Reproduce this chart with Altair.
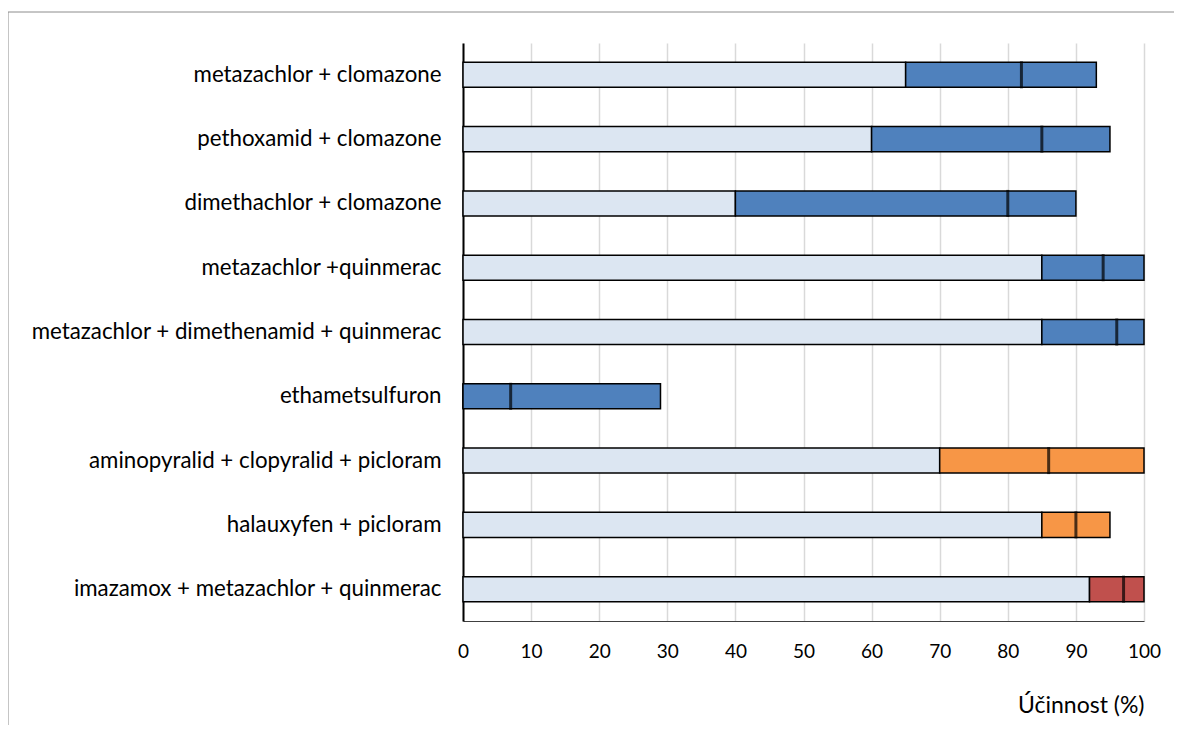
import altair as alt
import pandas as pd

categories = [
    "metazachlor + clomazone",
    "pethoxamid + clomazone",
    "dimethachlor + clomazone",
    "metazachlor +quinmerac",
    "metazachlor + dimethenamid + quinmerac",
    "ethametsulfuron",
    "aminopyralid + clopyralid + picloram",
    "halauxyfen + picloram",
    "imazamox + metazachlor + quinmerac",
]
min_vals = [65, 60, 40, 85, 85, 0, 70, 85, 92]
mid_vals = [82, 85, 80, 94, 96, 7, 86, 90, 97]
max_vals = [93, 95, 90, 100, 100, 29, 100, 95, 100]
groups = ["A", "A", "A", "A", "A", "A", "B", "B", "C"]

group_domain = ["A", "B", "C"]
group_colors = ["#4f81bd", "#f79646", "#c0504d"]

df = pd.DataFrame({
    "cat": categories,
    "zero": [0] * len(categories),
    "min": min_vals,
    "mid": mid_vals,
    "max": max_vals,
    "grp": groups,
})

FONT = "Lato"

y_enc = alt.Y(
    "cat:N",
    sort=categories,
    scale=alt.Scale(paddingInner=0.61, paddingOuter=0.3),
    axis=alt.Axis(
        title=None, ticks=False, grid=False, domain=True,
        domainColor="#000000", domainWidth=2,
        labelFontSize=22.3, labelFont=FONT, labelColor="#000000",
        labelPadding=22, labelLimit=600,
    ),
)
x_scale = alt.Scale(domain=[0, 100], nice=False)
x_axis = alt.Axis(
    title="Účinnost (%)", values=list(range(0, 101, 10)),
    ticks=False, grid=True, gridColor="#d9d9d9", gridWidth=1.5,
    domain=True, domainColor="#404040", domainWidth=1,
    labelFontSize=19, labelFont=FONT, labelColor="#000000",
    labelPadding=21, labelFlush=False, titleFont=FONT, titleFontSize=23,
    titleFontWeight="normal", titleColor="#000000",
    titleAnchor="end", titlePadding=33,
)

base = alt.Chart(df)

light = base.mark_bar(color="#dce6f2", stroke="#000000", strokeWidth=1.5).encode(
    y=y_enc,
    x=alt.X("zero:Q", scale=x_scale, axis=x_axis),
    x2="min:Q",
)

rng = base.mark_bar(stroke="#000000", strokeWidth=1.5).encode(
    y=alt.Y("cat:N", sort=categories),
    x=alt.X("min:Q", scale=x_scale),
    x2="max:Q",
    color=alt.Color("grp:N", scale=alt.Scale(domain=group_domain, range=group_colors), legend=None),
)

tick = base.mark_tick(color="#000000", thickness=3, size=27).encode(
    y=alt.Y("cat:N", sort=categories),
    x=alt.X("mid:Q", scale=x_scale),
)

frame = alt.Chart(pd.DataFrame({"a": [0]})).mark_rule(color="#8c8c8c", strokeWidth=1).encode(
    x=alt.value(-455), x2=alt.value(800), y=alt.value(-31), y2=alt.value(-31)
)
frame2 = alt.Chart(pd.DataFrame({"a": [0]})).mark_rule(color="#8c8c8c", strokeWidth=1).encode(
    x=alt.value(-455), x2=alt.value(-455), y=alt.value(-31), y2=alt.value(760)
)

chart = alt.layer(light, rng, tick, frame, frame2).properties(
    width=681, height=578,
    autosize=alt.AutoSizeParams(type="none"),
    padding={"left": 455, "top": 35, "right": 30, "bottom": 104},
).configure_view(stroke=None)

chart.save("out.html", embed_options={"renderer": "svg", "actions": False})
